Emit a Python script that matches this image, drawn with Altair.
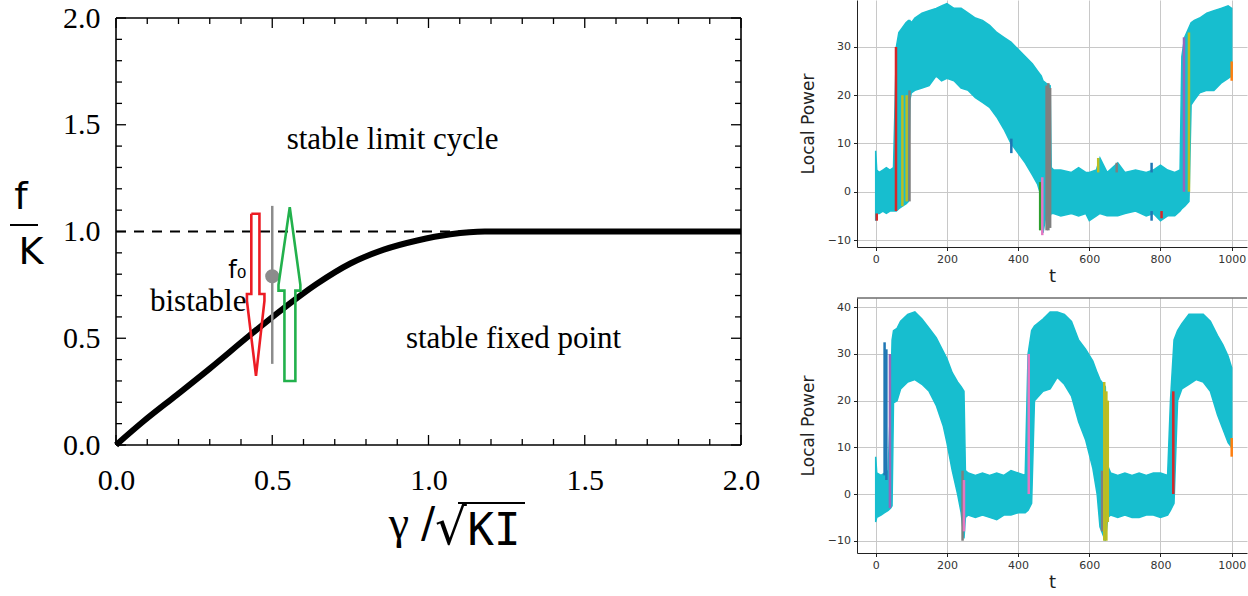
import altair as alt
import pandas as pd

# ---------------- left panel (phase diagram) ----------------
curve_x = [0.0, 0.088, 0.195, 0.30, 0.429, 0.536, 0.643, 0.75, 0.857, 0.964, 1.07, 1.18, 2.0]
curve_y = [0.0, 0.111, 0.235, 0.358, 0.515, 0.640, 0.755, 0.850, 0.915, 0.958, 0.987, 1.0, 1.0]
dash_x = [0.0, 1.18]
dash_y = [1.0, 1.0]
red_x = [0.433, 0.459, 0.459, 0.475, 0.475, 0.448, 0.419, 0.419, 0.433, 0.433]
red_y = [1.083, 1.083, 0.707, 0.707, 0.675, 0.324, 0.675, 0.707, 0.707, 1.083]
green_x = [0.556, 0.590, 0.590, 0.574, 0.574, 0.539, 0.539, 0.520, 0.520, 0.556]
green_y = [1.114, 0.750, 0.723, 0.723, 0.300, 0.300, 0.723, 0.723, 0.750, 1.114]
f0_x, f0_y, f0_lo, f0_hi = 0.5, 0.79, 0.38, 1.12
major_ticks = [0.0, 0.5, 1.0, 1.5, 2.0]
minor_ticks = [0.1, 0.2, 0.3, 0.4, 0.6, 0.7, 0.8, 0.9, 1.1, 1.2, 1.3, 1.4, 1.6, 1.7, 1.8, 1.9]
region_text = ["stable limit cycle", "stable fixed point", "bistable"]
region_x = [0.885, 1.272, 0.263]
region_y = [1.427, 0.498, 0.668]

# ---------------- right panels (local power vs t) ----------------
t_ticks = [0, 200, 400, 600, 800, 1000]
p_ticks = [-10, 0, 10, 20, 30, 40]

top_t = [0, 3, 10, 20, 30, 40, 50, 55, 58, 65, 75, 85, 92, 96, 100, 110, 130, 150, 170, 185, 200,
         220, 240, 260, 280, 300, 320, 340, 360, 380, 400, 420, 440, 455, 465, 470, 478, 490, 493,
         500, 520, 550, 570, 590, 600, 620, 630, 650, 680, 700, 730, 760, 780, 800, 820, 840, 855,
         860, 868, 880, 886, 895, 910, 930, 950, 970, 990, 1000]
top_lo = [-6, -4.5, -4.5, -4, -4.5, -4, -4, -4, -4, -3.5, -3, -2.5, -2, 19, 20.5, 21, 21.5, 22, 24, 23, 23.5,
          23, 21.5, 21, 19.5, 18.5, 17.5, 15.5, 13, 10, 8, 6, 3.5, 1.5, -1, -8.5, -5, -5, -4.5,
          -4.5, -5, -4.5, -5, -4.5, -6, -5, -4.5, -5, -5, -4.5, -4, -5, -4.5, -6, -5, -5, -4,
          -3.5, -3, -2, 18, 19, 20.5, 21, 21, 22.5, 23.5, 24]
top_hi = [8.5, 4.5, 4, 4.5, 5, 4.5, 5, 20, 30, 33, 34, 35, 35.5, 35.5, 35, 36, 37, 37.5, 38, 38.5, 39,
          38, 38, 37, 36, 35.5, 34.5, 33, 32, 31, 29.5, 28, 26.5, 25, 24, 23, 22.5, 22, 5,
          4.5, 4.5, 4, 5, 4, 4, 4.5, 7, 4, 6, 4, 4.5, 4, 4.5, 5.5, 4.5, 4, 4.5,
          28, 32, 34, 35, 35.5, 36, 37, 37.5, 38, 38.5, 38]
top_seg_t = [3, 57, 75, 87, 95, 381, 462, 468, 480, 485, 490, 625, 677, 775, 775, 803, 866, 880, 1000]
top_seg_lo = [-6, -4, -3, -2, -2, 8, -8, -9, -8, -8, -7.5, 4, 4, 4, -6, -5.5, 0, 0, 23]
top_seg_hi = [-4.5, 30, 20, 20, 21, 11, 2, 3, 22, 22.5, 21.5, 7, 6, 6, -4, -4, 32, 33, 27]
top_seg_c = ["C3", "C3", "C8", "C8", "C7", "C0", "C2", "C6", "C7", "C7", "C7", "C8", "C7", "C0", "C0",
             "C3", "C4", "C8", "C1"]

bot_t = [0, 3, 15, 25, 35, 42, 46, 50, 60, 70, 90, 110, 130, 150, 170, 190, 200, 215, 230, 240, 248,
         252, 260, 280, 300, 320, 340, 360, 380, 400, 420, 428, 438, 446, 470, 490, 510, 530, 550,
         570, 590, 610, 622, 630, 645, 652, 660, 680, 700, 720, 740, 760, 780, 800, 820, 828, 838,
         848, 860, 880, 900, 920, 940, 960, 975, 990, 1000]
bot_lo = [-6, -5, -4.5, -4, -3.5, -3, -2.5, 19.5, 20, 22.5, 24, 24.5, 23.5, 22, 19, 14.5, 11, 5, 0, -4, -9.5,
          -5, -4.5, -5, -4.5, -5, -5.5, -4.5, -4.5, -4, -4, -3.5, -2, 20, 22, 22.5, 25, 23.5, 21,
          15.5, 11.5, 5.5, 0, -7, -10, -5, -4.5, -5, -4.5, -5, -5, -4.5, -4.5, -5, -4.5, -3.5, -2,
          20, 22.5, 23.5, 24.5, 24, 22, 17, 14, 11, 10]
bot_hi = [8, 4.5, 4, 4.5, 5, 20, 33, 35, 35.5, 37, 38.5, 39, 37.5, 35.5, 33.5, 30.5, 29, 26, 24, 23, 22,
          5, 4.5, 4, 4.5, 4, 4.5, 4, 5, 4.5, 4, 30, 35, 36, 37.5, 39, 39, 38.5, 37,
          33, 31, 28.5, 26, 24.5, 23, 6, 4.5, 4, 4.5, 4, 4.5, 4, 4.5, 4.5, 4, 20, 33,
          35, 36.5, 38.5, 38.5, 38.5, 37, 34, 32, 29.5, 27]
bot_seg_t = [25, 30, 40, 244, 248, 430, 636, 642, 648, 652, 836, 1000]
bot_seg_lo = [4, 3, -3, -10, -8, 0, -8, -10, -10, -6, 0, 8]
bot_seg_hi = [32.5, 31, 30, 5, 3, 30, 5, 24, 22, 20, 22, 12]
bot_seg_c = ["C0", "C0", "C4", "C7", "C6", "C6", "C7", "C8", "C8", "C8", "C3", "C1"]

tab10_names = ["C0", "C1", "C2", "C3", "C4", "C5", "C6", "C7", "C8", "C9"]
tab10 = ["#1f77b4", "#ff7f0e", "#2ca02c", "#d62728", "#9467bd",
         "#8c564b", "#e377c2", "#7f7f7f", "#bcbd22", "#17becf"]

# ================= left chart =================
W_L, H_L = 625, 445
Y_TOP = 2.0 * H_L / 427
serif = "Liberation Serif"
xs = alt.Scale(domain=[0, 2], nice=False, zero=False)
ys = alt.Scale(domain=[0, Y_TOP], nice=False, zero=False)
xaxis = alt.Axis(values=major_ticks, format=".1f", labelFont=serif, labelFontSize=30,
                 labelColor="black", domain=False, ticks=False, grid=False, title=None,
                 labelPadding=20, labelOverlap=False, labelFlush=False)
yaxis = alt.Axis(values=major_ticks, format=".1f", labelFont=serif, labelFontSize=30,
                 labelColor="black", domain=False, ticks=False, grid=False, title=None,
                 labelPadding=16, labelOverlap=False, labelFlush=False)


def X(f):
    return alt.X(f, type="quantitative", scale=xs, axis=xaxis)


def Y(f):
    return alt.Y(f, type="quantitative", scale=ys, axis=yaxis)


one = pd.DataFrame({"a": [0]})

frame_df = pd.DataFrame({"x": [0, 0, 0, 2], "x2": [2, 2, 0, 2],
                         "y": [0, 2, 0, 0], "y2": [0, 2, 2, 2]})
frame = alt.Chart(frame_df).mark_rule(color="black", strokeWidth=1.6).encode(
    x=X("x"), x2="x2", y=Y("y"), y2="y2")

tick_layers = []
for vals, ln in [(major_ticks, 10), (minor_ticks, 6)]:
    dfb = pd.DataFrame({"v": vals, "lo": [0.0] * len(vals), "hi": [2.0] * len(vals)})
    tick_layers.append(alt.Chart(dfb).mark_rule(color="black", strokeWidth=1.3, y2Offset=-ln)
                       .encode(x=X("v"), y=Y("lo"), y2="lo"))
    tick_layers.append(alt.Chart(dfb).mark_rule(color="black", strokeWidth=1.3, y2Offset=ln)
                       .encode(x=X("v"), y=Y("hi"), y2="hi"))
    tick_layers.append(alt.Chart(dfb).mark_rule(color="black", strokeWidth=1.3, x2Offset=ln)
                       .encode(x=X("lo"), x2="lo", y=Y("v")))
    tick_layers.append(alt.Chart(dfb).mark_rule(color="black", strokeWidth=1.3, x2Offset=-ln)
                       .encode(x=X("hi"), x2="hi", y=Y("v")))

dash = alt.Chart(pd.DataFrame({"x": dash_x, "y": dash_y})).mark_line(
    color="black", strokeWidth=2.2, strokeDash=[10, 8]).encode(x=X("x"), y=Y("y"))

curve = alt.Chart(pd.DataFrame({"x": curve_x, "y": curve_y})).mark_line(
    color="black", strokeWidth=6, interpolate="monotone").encode(x=X("x"), y=Y("y"))

gray_line = alt.Chart(pd.DataFrame({"x": [f0_x], "y": [f0_lo], "y2": [f0_hi]})).mark_rule(
    color="#8c8c8c", strokeWidth=2.5).encode(x=X("x"), y=Y("y"), y2="y2")
gray_dot = alt.Chart(pd.DataFrame({"x": [f0_x], "y": [f0_y]})).mark_circle(
    color="#8c8c8c", size=200, opacity=1).encode(x=X("x"), y=Y("y"))

red = alt.Chart(pd.DataFrame({"x": red_x, "y": red_y, "i": list(range(len(red_x)))})).mark_line(
    color="#ec1c24", strokeWidth=2.6).encode(x=X("x"), y=Y("y"), order="i:Q")
green = alt.Chart(pd.DataFrame({"x": green_x, "y": green_y, "i": list(range(len(green_x)))})).mark_line(
    color="#22b14c", strokeWidth=2.6).encode(x=X("x"), y=Y("y"), order="i:Q")

regions = alt.Chart(pd.DataFrame({"x": region_x, "y": region_y, "label": region_text})).mark_text(
    font=serif, fontSize=31, color="black").encode(x=X("x"), y=Y("y"), text="label:N")

f0_text = alt.Chart(pd.DataFrame({"x": [0.388], "y": [0.815], "label": ["f₀"]})).mark_text(
    font="DejaVu Sans", fontSize=24, color="black").encode(x=X("x"), y=Y("y"), text="label:N")

# axis titles drawn as text (handwritten look in the original)
ytit_f = alt.Chart(one).mark_text(font="DejaVu Sans", fontSize=38, color="black").encode(
    x=alt.value(-95), y=alt.value(198), text=alt.value("f"))
ytit_bar = alt.Chart(one).mark_rule(color="black", strokeWidth=2).encode(
    x=alt.value(-106), x2=alt.value(-78), y=alt.value(225))
ytit_k = alt.Chart(one).mark_text(font="DejaVu Sans", fontSize=38, color="black").encode(
    x=alt.value(-85), y=alt.value(253), text=alt.value("K"))
xt_g = alt.Chart(one).mark_text(font=serif, fontSize=46, color="black").encode(
    x=alt.value(283), y=alt.value(524), text=alt.value("γ"))
xt_s = alt.Chart(one).mark_text(font="DejaVu Sans", fontSize=42, color="black").encode(
    x=alt.value(312), y=alt.value(524), text=alt.value("/"))
xt_r = alt.Chart(one).mark_text(font="DejaVu Sans", fontSize=50, color="black").encode(
    x=alt.value(335), y=alt.value(529), text=alt.value("√"))
xt_k = alt.Chart(one).mark_text(font="DejaVu Sans Mono", fontSize=44, color="black").encode(
    x=alt.value(378), y=alt.value(532), text=alt.value("KI"))
xtit_bar = alt.Chart(one).mark_rule(color="black", strokeWidth=2).encode(
    x=alt.value(342), x2=alt.value(409), y=alt.value(503))
pin = alt.Chart(one).mark_rule(strokeOpacity=0, opacity=0).encode(
    x=alt.value(-116), y=alt.value(0), y2=alt.value(4))

left = alt.layer(curve, frame, *tick_layers, dash, gray_line, gray_dot, red, green,
                 regions, f0_text, ytit_f, ytit_bar, ytit_k,
                 xt_g, xt_s, xt_r, xt_k, xtit_bar, pin).properties(width=W_L, height=H_L)

# ================= right charts =================
W_R = 390
sans = "DejaVu Sans"


def panel(t, lo, hi, st, slo, shi, sc, ydom, height, top_spine):
    xsc = alt.Scale(domain=[-52.5, 1043], nice=False, zero=False)
    ysc = alt.Scale(domain=ydom, nice=False, zero=False)
    xax = alt.Axis(values=t_ticks, format="d", title="t", labelFont=sans, labelFontSize=11,
                   labelColor="#333333", tickColor="#222222", tickSize=3.5, labelPadding=3,
                   domainColor="#222222", grid=True, gridColor="#c8c8c8", gridWidth=1,
                   titleFont=sans, titleFontSize=18, titleFontWeight="normal", titleColor="#222222",
                   titlePadding=3, labelFlush=False, labelOverlap=False)
    yax = alt.Axis(values=p_ticks, format="d", title="Local Power", labelFont=sans, labelFontSize=11,
                   labelColor="#333333", tickColor="#222222", tickSize=3.5, labelPadding=3,
                   domainColor="#222222", grid=True, gridColor="#c8c8c8", gridWidth=1,
                   titleFont=sans, titleFontSize=17, titleFontWeight="normal", titleColor="#222222",
                   titlePadding=10, labelFlush=False, labelOverlap=False,
                   labelExpr="replace(datum.label, '-', '−')")
    band_df = pd.DataFrame({"t": t, "lo": lo, "hi": hi})
    band = alt.Chart(band_df).mark_area(color="#17becf", opacity=1, clip=True,
                                        stroke="#17becf", strokeWidth=1.5).encode(
        x=alt.X("t", type="quantitative", scale=xsc, axis=xax),
        y=alt.Y("lo", type="quantitative", scale=ysc, axis=yax),
        y2="hi")
    seg_df = pd.DataFrame({"t": st, "lo": slo, "hi": shi, "c": sc})
    segs = alt.Chart(seg_df).mark_rule(strokeWidth=2.5, clip=True).encode(
        x=alt.X("t", type="quantitative", scale=xsc, axis=xax),
        y=alt.Y("lo", type="quantitative", scale=ysc, axis=yax),
        y2="hi",
        color=alt.Color("c:N", scale=alt.Scale(domain=tab10_names, range=tab10), legend=None))
    layers = [band, segs]
    if top_spine:
        layers.append(alt.Chart(one).mark_rule(color="#222222", strokeWidth=1).encode(
            x=alt.value(0), x2=alt.value(W_R), y=alt.value(0)))
    return alt.layer(*layers).properties(width=W_R, height=height)


top = panel(top_t, top_lo, top_hi, top_seg_t, top_seg_lo, top_seg_hi, top_seg_c,
            [-11.45, 39.73], 247, False)
bottom = panel(bot_t, bot_lo, bot_hi, bot_seg_t, bot_seg_lo, bot_seg_hi, bot_seg_c,
               [-12.63, 41.99], 255, True)

right = alt.vconcat(top, bottom, spacing=51, bounds="flush")
chart = alt.hconcat(left, right, spacing=116, bounds="flush", padding=0).configure_view(stroke=None)

chart.save("out.html", embed_options={"renderer": "svg", "actions": False})
